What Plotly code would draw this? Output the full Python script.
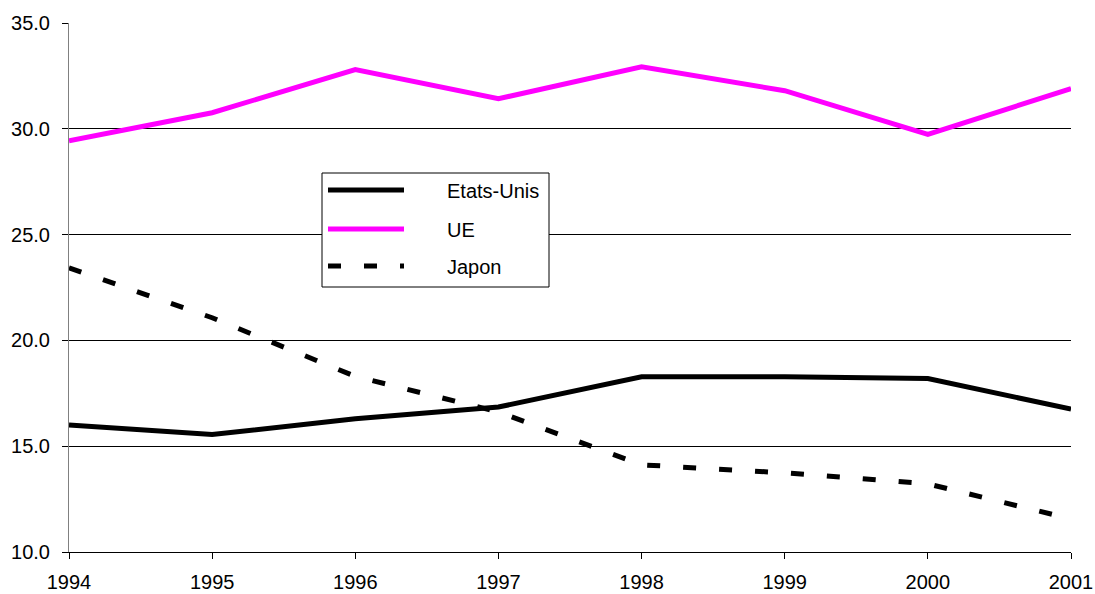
import plotly.graph_objects as go

# Years on the horizontal axis
years = [1994, 1995, 1996, 1997, 1998, 1999, 2000, 2001]

# Series values
etats_unis = [16.0, 15.55, 16.3, 16.85, 18.28, 18.28, 18.2, 16.75]
ue = [29.43, 30.76, 32.8, 31.42, 32.93, 31.8, 29.74, 31.9]
japon = [23.43, 21.07, 18.3, 16.62, 14.12, 13.74, 13.22, 11.56]

series_names = ["Etats-Unis", "UE", "Japon"]

y_ticks = [10, 15, 20, 25, 30, 35]
y_tick_labels = ["10.0", "15.0", "20.0", "25.0", "30.0", "35.0"]

FONT = "Liberation Sans, Arial, sans-serif"
MAGENTA = "#FF00FF"
JAPON_DASH = "13px,23px"

W, H = 1095, 594
ML, MR, MT, MB = 69, 24, 23, 42
PW, PH = W - ML - MR, H - MT - MB


def px_x(x):
    return (x - ML) / PW


def px_y(y):
    return (H - MB - y) / PH


fig = go.Figure()

fig.add_trace(go.Scatter(x=years, y=etats_unis, mode="lines", name=series_names[0],
                         line=dict(color="black", width=5)))
fig.add_trace(go.Scatter(x=years, y=ue, mode="lines", name=series_names[1],
                         line=dict(color=MAGENTA, width=5)))
fig.add_trace(go.Scatter(x=years, y=japon, mode="lines", name=series_names[2],
                         line=dict(color="black", width=5, dash=JAPON_DASH)))

# Boxed key with long line samples
shapes = [dict(type="rect", xref="paper", yref="paper",
               x0=px_x(322), x1=px_x(549), y0=px_y(287), y1=px_y(173),
               line=dict(color="black", width=1), fillcolor="white", layer="above")]
annotations = []
key_rows = [(190, "black", "solid"), (229, MAGENTA, "solid"), (266, "black", JAPON_DASH)]
for name, (ry, col, dash) in zip(series_names, key_rows):
    shapes.append(dict(type="line", xref="paper", yref="paper",
                       x0=px_x(328), x1=px_x(404), y0=px_y(ry), y1=px_y(ry),
                       line=dict(color=col, width=5, dash=dash), layer="above"))
    annotations.append(dict(xref="paper", yref="paper", x=px_x(445), y=px_y(ry + 1),
                            text=name, showarrow=False, xanchor="left", yanchor="middle",
                            font=dict(family=FONT, size=20, color="black")))

fig.update_layout(
    width=W, height=H,
    margin=dict(l=ML, r=MR, t=MT, b=MB, autoexpand=False),
    paper_bgcolor="white", plot_bgcolor="white",
    showlegend=False,
    font=dict(family=FONT, size=20, color="black"),
    shapes=shapes,
    annotations=annotations,
)

fig.update_xaxes(
    range=[1994, 2001], tickvals=years, ticktext=[str(y) for y in years],
    automargin=False,
    showgrid=False, zeroline=False,
    showline=True, linecolor="black", linewidth=1,
    ticks="outside", ticklen=6, tickcolor="black", tickwidth=1,
    ticklabelstandoff=6,
    tickfont=dict(family=FONT, size=20, color="black"),
)

fig.update_yaxes(
    range=[10, 35], tickvals=y_ticks, ticktext=y_tick_labels,
    automargin=False,
    showgrid=True, gridcolor="black", gridwidth=1, zeroline=False,
    showline=True, linecolor="#808080", linewidth=1,
    ticks="outside", ticklen=6, tickcolor="black", tickwidth=1,
    ticklabelstandoff=8,
    tickfont=dict(family=FONT, size=20, color="black"),
)

fig.write_html("out.html")
